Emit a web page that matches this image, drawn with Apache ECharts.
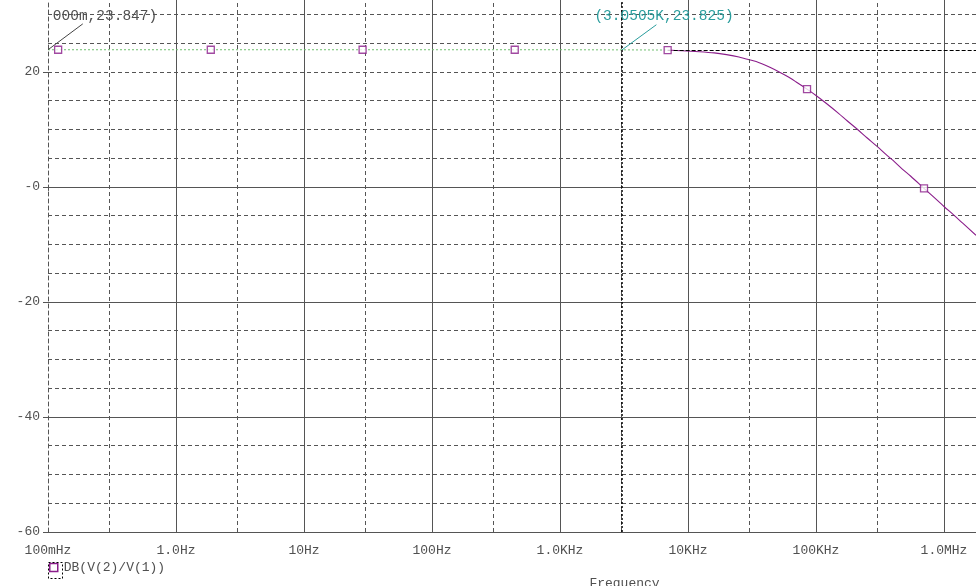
<!DOCTYPE html>
<html><head><meta charset="utf-8">
<script src="https://cdn.jsdelivr.net/npm/echarts@6/dist/echarts.min.js"></script>
<style>html,body{margin:0;padding:0;background:#fff}#c{width:976px;height:586px}</style>
</head><body><div id="c"></div>
<script>
// ---- data ----
const seriesName = 'DB(V(2)/V(1))';
const traceFreq = [0.1, 1, 10, 100, 1000, 3050.5, 6935, 9000, 12300, 16000, 20000, 25000, 30300, 36000, 43600, 52000, 60000, 70000, 85100, 100000, 120000, 150000, 175000, 207000, 250000, 300000, 350000, 400000, 470000, 550000, 698000, 820000, 1000000, 1200000, 1400000, 1778279];
const traceDb   = [23.85, 23.85, 23.85, 23.85, 23.85, 23.83, 23.80, 23.67, 23.5, 23.3, 23.0, 22.6, 22.1, 21.6, 20.8, 19.95, 19.2, 18.25, 17.0, 15.9, 14.55, 12.8, 11.5, 10.15, 8.55, 7.05, 5.7, 4.6, 3.15, 1.85, -0.24, -1.65, -3.4, -4.95, -6.3, -8.4];
const markerFreq = [0.12, 1.87, 28.7, 443, 6935, 85100, 698000];
const markerDb   = [23.85, 23.85, 23.85, 23.85, 23.80, 17.0, -0.24];
const xTickLabels = ['100mHz', '1.0Hz', '10Hz', '100Hz', '1.0KHz', '10KHz', '100KHz', '1.0MHz'];
const yTickValues = [-60, -40, -20, 0, 20];
const yTickLabels = ['-60', '-40', '-20', '-0', '20'];
const minorFreqs = [0.3, 3, 30, 300, 3000, 30000, 300000];
const cursor1 = [0.1, 23.847];
const cursor1Label = '000m,23.847)';
const cursor2 = [3050.5, 23.825];
const cursor2Label = '(3.0505K,23.825)';
const splitFreq = 6935;
const xMin = 0.1, xMax = 1778279;
const yMin = -60, yMax = 32.5;

// ---- styles ----
const GRID = '#555';
const PURPLE = '#8a1c8a';
const TEAL = '#2a9d9d';
const MONO = '"Liberation Mono", "DejaVu Sans Mono", monospace';

const flatData = [], mainData = [];
traceFreq.forEach((f, i) => {
  if (f <= splitFreq) flatData.push([f, traceDb[i]]);
  if (f >= splitFreq) mainData.push([f, traceDb[i]]);
});
const markerData = markerFreq.map((f, i) => [f, markerDb[i]]);

const chart = echarts.init(document.getElementById('c'), null, {renderer: 'canvas'});
const option = {
  animation: false,
  backgroundColor: '#fff',
  grid: {left: 48, right: 0, top: 0, bottom: 54, containLabel: false, outerBoundsMode: 'none'},
  legend: {
    left: 49, top: 561, padding: 0, itemWidth: 8, itemHeight: 8,
    textStyle: {fontFamily: MONO, fontSize: 13, color: '#505050', padding: [0, 0, 0, 1]},
    data: [{name: seriesName, icon: 'rect', itemStyle: {color: '#fff', borderColor: PURPLE, borderWidth: 1.5}}]
  },
  xAxis: {
    type: 'log', logBase: 10, min: xMin, max: xMax, splitNumber: 8,
    axisLine: {show: true, lineStyle: {color: GRID, width: 1}},
    axisTick: {show: true, length: 4, lineStyle: {color: GRID}},
    splitLine: {show: true, showMinLine: false, lineStyle: {color: GRID, width: 1, type: 'solid'}},
    axisLabel: {
      show: true, margin: 12, fontFamily: MONO, fontSize: 13, color: '#505050', showMaxLabel: false,
      formatter: v => {
        const k = Math.round(Math.log10(v)) + 1;
        if (Math.abs(Math.log10(v) - (k - 1)) > 1e-6) return '';
        return xTickLabels[k] || '';
      }
    },
    name: 'Frequency', nameLocation: 'middle', nameGap: 45,
    nameTextStyle: {fontFamily: MONO, fontSize: 13, color: '#505050', padding: [0, 0, 0, 225]}
  },
  yAxis: [
    {
      type: 'value', min: yMin, max: yMax, interval: 5, position: 'left',
      axisLine: {show: true, lineStyle: {color: GRID, width: 1, type: [4, 3]}},
      axisTick: {show: false}, axisLabel: {show: false},
      splitLine: {show: true, showMinLine: false, showMaxLine: false, lineStyle: {color: GRID, width: 1, type: [4, 3]}}
    },
    {
      type: 'value', min: yMin, max: yMax, interval: 20, position: 'left',
      axisLine: {show: false},
      axisTick: {show: true, length: 5, customValues: yTickValues, lineStyle: {color: GRID}},
      axisLabel: {
        show: true, margin: 8, fontFamily: MONO, fontSize: 13, color: '#505050', customValues: yTickValues,
        formatter: v => { const i = yTickValues.indexOf(v); return i >= 0 ? yTickLabels[i] : ''; }
      },
      splitLine: {show: true, showMaxLine: false, lineStyle: {color: GRID, width: 1, type: 'solid'}}
    }
  ],
  series: [
    {
      name: 'grid-cursor', type: 'line', data: flatData, symbol: 'none', z: 3,
      lineStyle: {color: '#6fbf6f', width: 1, type: [2, 2]},
      markLine: {
        silent: true, symbol: 'none', label: {show: false}, animation: false,
        lineStyle: {color: GRID, width: 1, type: [4, 3]},
        data: minorFreqs.map(f => ({xAxis: f})).concat([
          {xAxis: cursor2[0], lineStyle: {color: '#000', width: 1.5, type: [2, 2]}},
          [{coord: [splitFreq, cursor2[1]], lineStyle: {color: '#000', width: 1, type: [4, 2]}}, {coord: [xMax, cursor2[1]]}],
          [{coord: cursor1, lineStyle: {color: '#444', width: 1, type: 'solid'}}, {coord: [0.187, 28.35]}],
          [{coord: cursor2, lineStyle: {color: TEAL, width: 1, type: 'solid'}}, {coord: [5662, 28.2]}]
        ])
      }
    },
    {
      name: seriesName, type: 'line', data: mainData, symbol: 'none', smooth: 0.3, z: 4,
      lineStyle: {color: PURPLE, width: 1.1}
    },
    {
      name: seriesName, type: 'scatter', data: markerData, symbol: 'rect', symbolSize: 7, z: 5,
      itemStyle: {color: '#fff', borderColor: PURPLE, borderWidth: 1.3}
    }
  ]
};
chart.setOption(option);

const p1 = chart.convertToPixel({xAxisIndex: 0, yAxisIndex: 0}, [0.187, 28.35]);
const p2 = chart.convertToPixel({xAxisIndex: 0, yAxisIndex: 0}, [5662, 28.2]);
chart.setOption({
  graphic: [
    {type: 'text', left: p1[0] - 30, top: 9, z: 10,
     style: {text: cursor1Label, font: '14.5px ' + MONO, fill: '#505050'}},
    {type: 'text', left: p2[0] - 62, top: 9, z: 10,
     style: {text: cursor2Label, font: '14.5px ' + MONO, fill: TEAL}},
    {type: 'rect', left: 46, top: 560, z: 10,
     shape: {width: 14, height: 16},
     style: {fill: 'none', stroke: '#000', lineWidth: 1, lineDash: [2, 2]}}
  ]
});
</script></body></html>
